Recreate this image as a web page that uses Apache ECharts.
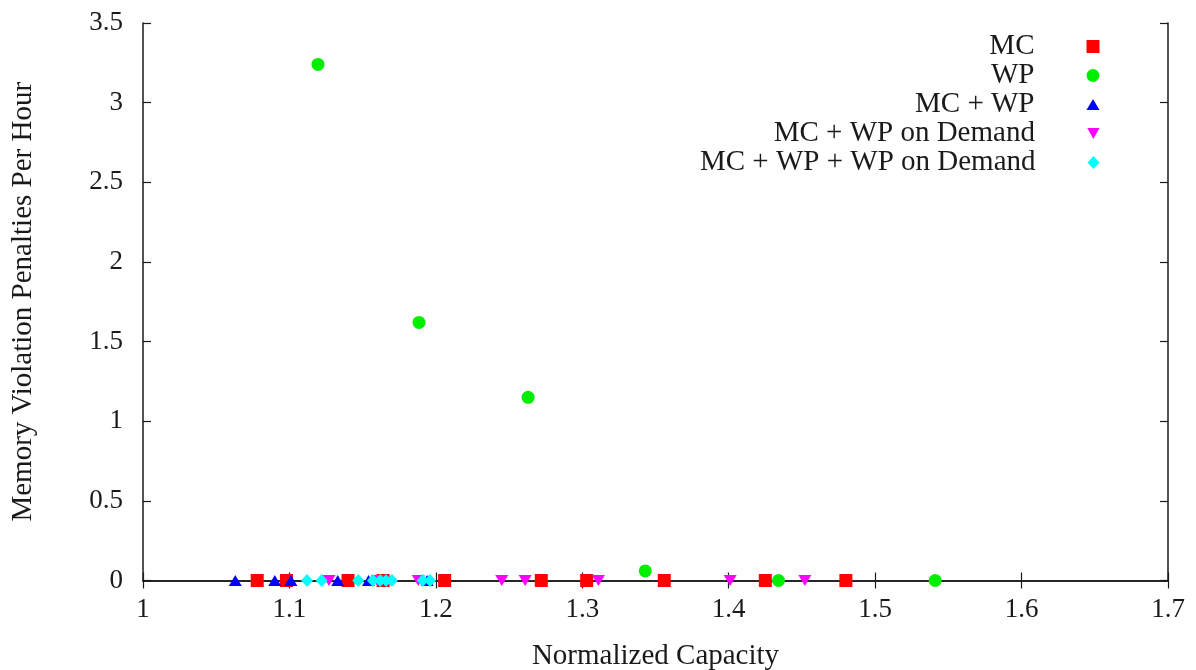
<!DOCTYPE html>
<html>
<head>
<meta charset="utf-8">
<script src="https://cdn.jsdelivr.net/npm/echarts@6/dist/echarts.min.js"></script>
<style>
  html, body { margin: 0; padding: 0; background: #fff; }
  #chart { width: 1196px; height: 670px; }
</style>
</head>
<body>
<div id="chart"></div>
<script>
// Normalized capacity vs. memory violation penalties per hour
const seriesNames = ['MC', 'WP', 'MC + WP', 'MC + WP on Demand', 'MC + WP + WP on Demand'];

const mcX = [1.078, 1.098, 1.140, 1.164, 1.206, 1.272, 1.303, 1.356, 1.425, 1.480];
const mcY = [0, 0, 0, 0, 0, 0, 0, 0, 0, 0];

const wpX = [1.1195, 1.1885, 1.263, 1.343, 1.434, 1.541];
const wpY = [3.24, 1.62, 1.15, 0.06, 0, 0];

const mcwpX = [1.063, 1.090, 1.101, 1.133, 1.154, 1.194];
const mcwpY = [0, 0, 0, 0, 0, 0];

const mcwpDemandX = [1.127, 1.160, 1.188, 1.245, 1.261, 1.311, 1.401, 1.452];
const mcwpDemandY = [0, 0, 0, 0, 0, 0, 0, 0];

const allX = [1.112, 1.122, 1.147, 1.157, 1.162, 1.166, 1.170, 1.191, 1.196];
const allY = [0, 0, 0, 0, 0, 0, 0, 0, 0];

const xTicks = { min: 1, max: 1.7, interval: 0.1 };
const yTicks = { min: 0, max: 3.5, interval: 0.5 };

const pairs = (xs, ys) => xs.map((x, i) => [x, ys[i]]);

const font = 'Liberation Serif, Times New Roman, serif';
const ink = '#1a1a1a';

const colors = ['#ff0000', '#00ee00', '#0000ff', '#ff00ff', '#00ffff'];
const symbols = ['rect', 'circle', 'triangle', 'triangle', 'diamond'];
const symbolSizes = [13, 13, [13, 11], [13, 11], [12, 13]];
const rotations = [0, 0, 0, 180, 0];
const legendIcons = ['rect', 'circle', 'triangle', 'path://M0,0L10,0L5,9Z', 'diamond'];
const legendIconSizes = [[13, 13], [13, 13], [13, 11], [13, 11], [12, 13]];
const dataSets = [
  pairs(mcX, mcY), pairs(wpX, wpY), pairs(mcwpX, mcwpY),
  pairs(mcwpDemandX, mcwpDemandY), pairs(allX, allY)
];

// vertical centre of each key row
const legendRows = [46.5, 75.5, 104.5, 133.5, 162.5];

const chart = echarts.init(document.getElementById('chart'));

const baseAxis = {
  axisLine: { show: true, lineStyle: { color: ink, width: 1.5 } },
  axisTick: { show: true, inside: true, length: 8, lineStyle: { color: ink, width: 1.2 } },
  splitLine: { show: false }
};

const tickFmt = v => String(parseFloat(v.toFixed(1)));

chart.setOption({
  animation: false,
  backgroundColor: '#ffffff',
  grid: {
    left: 143, right: 28, top: 23, bottom: 89.5,
    containLabel: false, outerBoundsMode: 'none'
  },
  legend: seriesNames.map((n, i) => ({
    data: [{ name: n, icon: legendIcons[i], itemStyle: { color: colors[i] } }],
    orient: 'vertical',
    align: 'right',
    right: 96.5,
    top: legendRows[i] - 15,
    padding: 0,
    itemWidth: legendIconSizes[i][0],
    itemHeight: legendIconSizes[i][1],
    selectedMode: false,
    textStyle: {
      fontFamily: font, fontSize: 29, lineHeight: 30, color: ink,
      padding: [0, 47, 0, 0]
    }
  })),
  xAxis: [
    Object.assign({}, baseAxis, {
      type: 'value', position: 'bottom',
      min: xTicks.min, max: xTicks.max, interval: xTicks.interval,
      name: 'Normalized Capacity', nameLocation: 'middle', nameGap: 61,
      nameTextStyle: { fontFamily: font, fontSize: 29, color: ink },
      axisLabel: { fontFamily: font, fontSize: 27, color: ink, margin: 16, formatter: tickFmt }
    }),
    Object.assign({}, baseAxis, {
      type: 'value', position: 'top',
      min: xTicks.min, max: xTicks.max, interval: xTicks.interval,
      axisLabel: { show: false }
    })
  ],
  yAxis: [
    Object.assign({}, baseAxis, {
      type: 'value', position: 'left',
      min: yTicks.min, max: yTicks.max, interval: yTicks.interval,
      name: 'Memory Violation Penalties Per Hour', nameLocation: 'middle', nameGap: 105,
      nameTextStyle: { fontFamily: font, fontSize: 29, color: ink },
      axisLabel: { fontFamily: font, fontSize: 27, color: ink, margin: 20, formatter: tickFmt }
    }),
    Object.assign({}, baseAxis, {
      type: 'value', position: 'right',
      min: yTicks.min, max: yTicks.max, interval: yTicks.interval,
      axisLabel: { show: false }
    })
  ],
  series: seriesNames.map((n, i) => ({
    name: n,
    type: 'scatter',
    xAxisIndex: 0,
    yAxisIndex: 0,
    data: dataSets[i],
    symbol: symbols[i],
    symbolSize: symbolSizes[i],
    symbolRotate: rotations[i],
    clip: false,
    itemStyle: { color: colors[i], opacity: 1 },
    z: 3 + i
  }))
});
</script>
</body>
</html>
